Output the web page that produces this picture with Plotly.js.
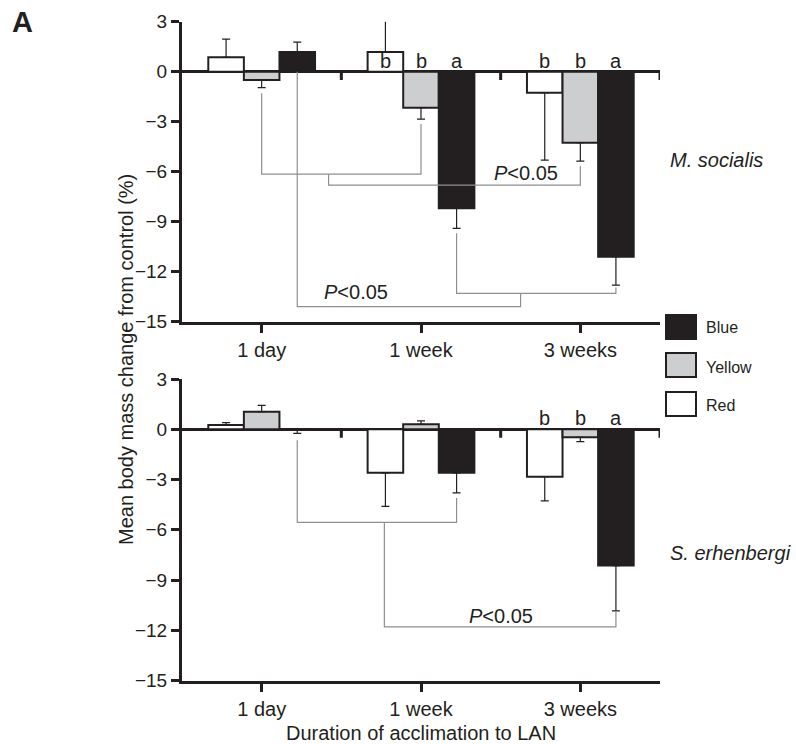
<!DOCTYPE html>
<html>
<head>
<meta charset="utf-8">
<script src="https://cdn.plot.ly/plotly-3.0.1.min.js"></script>
<style>html,body{margin:0;padding:0;background:#fff;}</style>
</head>
<body>
<div id="chart" style="width:796px;height:744px;"></div>
<script>
// ---------- DATA ----------
const categories = ['1 day', '1 week', '3 weeks'];
const seriesNames = ['Red', 'Yellow', 'Blue'];

// M. socialis (top panel)
const socRed = [0.86, 1.18, -1.26];
const socRedErr = [1.1, 1.9, 4.04];
const socYellow = [-0.5, -2.16, -4.26];
const socYellowErr = [0.46, 0.68, 1.1];
const socBlue = [1.18, -8.2, -11.1];
const socBlueErr = [0.6, 1.2, 1.7];

// S. erhenbergi (bottom panel)
const ehrRed = [0.26, -2.6, -2.83];
const ehrRedErr = [0.14, 2.0, 1.45];
const ehrYellow = [1.05, 0.3, -0.48];
const ehrYellowErr = [0.38, 0.2, 0.26];
const ehrBlue = [-0.05, -2.6, -8.14];
const ehrBlueErr = [0.2, 1.2, 2.7];

// significance letters (per category, order Red, Yellow, Blue)
const socLetters = [null, ['b', 'b', 'a'], ['b', 'b', 'a']];
const ehrLetters = [null, null, ['b', 'b', 'a']];

const yTicks = [3, 0, -3, -6, -9, -12, -15];
const pText = '<i>P</i>&lt;0.05';

// ---------- STYLE ----------
const INK = '#231f20';
const GREY_FILL = '#cdcecf';
const BRACKET = '#8e8e8e';
const FONT = 'Liberation Sans, Arial, sans-serif';
const BARGAP = 0.33;
const bw = (1 - BARGAP) / 3;
const offsets = {Red: -bw, Yellow: 0, Blue: bw};
const fills = {Red: '#ffffff', Yellow: GREY_FILL, Blue: INK};
const xIdx = categories.map((c, i) => i);
const xpos = (cat, s) => cat + offsets[s];

function barTrace(name, vals, errs, xa, ya) {
  const plus = vals.map((v, i) => v >= 0 ? errs[i] : 0);
  const minus = vals.map((v, i) => v < 0 ? errs[i] : 0);
  return {
    type: 'bar', name: name, x: xIdx, y: vals, xaxis: xa, yaxis: ya,
    marker: {color: fills[name], line: {color: INK, width: 2}},
    error_y: {type: 'data', symmetric: false, array: plus, arrayminus: minus,
              color: INK, thickness: 1.2, width: 4},
    showlegend: false, hoverinfo: 'skip'
  };
}

function bracket(xa, ya, xb, yb, level, xaxis, yaxis) {
  return {
    type: 'scatter', mode: 'lines', xaxis: xaxis, yaxis: yaxis,
    x: [xa, xa, xb, xb], y: [ya, level, level, yb],
    line: {color: BRACKET, width: 1.2}, showlegend: false, hoverinfo: 'skip'
  };
}

const errEnd = (vals, errs, i) => vals[i] < 0 ? vals[i] - errs[i] : vals[i];

const traces = [
  barTrace('Red', socRed, socRedErr, 'x', 'y'),
  barTrace('Yellow', socYellow, socYellowErr, 'x', 'y'),
  barTrace('Blue', socBlue, socBlueErr, 'x', 'y'),
  barTrace('Red', ehrRed, ehrRedErr, 'x2', 'y2'),
  barTrace('Yellow', ehrYellow, ehrYellowErr, 'x2', 'y2'),
  barTrace('Blue', ehrBlue, ehrBlueErr, 'x2', 'y2'),
  // top panel brackets
  bracket(xpos(0, 'Yellow'), errEnd(socYellow, socYellowErr, 0) - 0.33,
          xpos(1, 'Yellow'), errEnd(socYellow, socYellowErr, 1) - 0.3, -6.15, 'x', 'y'),
  bracket(0.42, -6.15, xpos(2, 'Yellow'), errEnd(socYellow, socYellowErr, 2) - 0.3, -6.8, 'x', 'y'),
  bracket(xpos(1, 'Blue'), errEnd(socBlue, socBlueErr, 1) - 0.3,
          xpos(2, 'Blue'), errEnd(socBlue, socBlueErr, 2) - 0.15, -13.3, 'x', 'y'),
  bracket(xpos(0, 'Blue'), 0, 1.625, -13.3, -14.1, 'x', 'y'),
  // bottom panel brackets
  bracket(xpos(0, 'Blue'), errEnd(ehrBlue, ehrBlueErr, 0) - 0.4,
          xpos(1, 'Blue'), errEnd(ehrBlue, ehrBlueErr, 1) - 0.3, -5.56, 'x2', 'y2'),
  bracket(0.77, -5.56, xpos(2, 'Blue'), errEnd(ehrBlue, ehrBlueErr, 2), -11.8, 'x2', 'y2')
];

// ---------- ANNOTATIONS ----------
const annotations = [];
function letters(list, xref, yref) {
  list.forEach((L, ci) => {
    if (!L) return;
    L.forEach((t, si) => {
      annotations.push({xref: xref, yref: yref, x: xpos(ci, seriesNames[si]), y: 0,
        yanchor: 'bottom', yshift: -2, text: t, showarrow: false,
        font: {family: FONT, size: 20, color: INK}});
    });
  });
}
letters(socLetters, 'x', 'y');
letters(ehrLetters, 'x2', 'y2');

const pAnn = (x, y, xr, yr) => ({xref: xr, yref: yr, x: x, y: y, text: pText, showarrow: false,
  yanchor: 'middle', font: {family: FONT, size: 20, color: INK}});
annotations.push(pAnn(1.66, -6.1, 'x', 'y'));
annotations.push(pAnn(0.59, -13.2, 'x', 'y'));
annotations.push(pAnn(1.5, -11.15, 'x2', 'y2'));

// layout pixel helpers (plot area: x 182..660, y 20..684)
const L = 182, R = 660, T = 20, B = 684;
const px = v => (v - L) / (R - L);
const py = v => (B - v) / (B - T);

annotations.push({xref: 'paper', yref: 'paper', x: px(10), y: py(22), xanchor: 'left', yanchor: 'middle',
  text: '<b>A</b>', showarrow: false, font: {family: FONT, size: 29, color: INK}});
annotations.push({xref: 'paper', yref: 'paper', x: px(668), y: py(160), xanchor: 'left', yanchor: 'middle',
  text: '<i>M. socialis</i>', showarrow: false, font: {family: FONT, size: 20, color: INK}});
annotations.push({xref: 'paper', yref: 'paper', x: px(668), y: py(553), xanchor: 'left', yanchor: 'middle',
  text: '<i>S. erhenbergi</i>', showarrow: false, font: {family: FONT, size: 20, color: INK}});
annotations.push({xref: 'paper', yref: 'paper', x: px(126), y: py(360), xanchor: 'center', yanchor: 'middle',
  textangle: -90, text: 'Mean body mass change from control (%)', showarrow: false,
  font: {family: FONT, size: 20, color: INK}});
annotations.push({xref: 'paper', yref: 'paper', x: px(421), y: py(733), xanchor: 'center', yanchor: 'middle',
  text: 'Duration of acclimation to LAN', showarrow: false,
  font: {family: FONT, size: 20, color: INK}});

// legend (custom)
const legendRows = [{name: 'Blue', top: 315, text: 327}, {name: 'Yellow', top: 353, text: 367}, {name: 'Red', top: 392, text: 405}];
const shapes = [];
legendRows.forEach(r => {
  shapes.push({type: 'rect', xref: 'paper', yref: 'paper', x0: px(666), x1: px(696),
    y0: py(r.top), y1: py(r.top + 24), fillcolor: fills[r.name], line: {color: INK, width: 2}});
  annotations.push({xref: 'paper', yref: 'paper', x: px(704), y: py(r.text), xanchor: 'left', yanchor: 'middle',
    text: r.name, showarrow: false, font: {family: FONT, size: 16, color: INK}});
});

// separator ticks on the zero line
[0.5, 1.5, 2.5].forEach(s => {
  ['', '2'].forEach(k => {
    shapes.push({type: 'line', xref: 'x' + k, yref: 'y' + k, x0: s, x1: s, y0: 0, y1: -0.5,
      line: {color: INK, width: 3}});
  });
});

const xAxisBase = {
  range: [-0.5, 2.5], tickvals: xIdx, ticktext: categories,
  showline: true, linewidth: 3, linecolor: INK, ticks: 'outside', ticklen: 8, tickwidth: 3,
  tickcolor: INK, showgrid: false, zeroline: false, fixedrange: true,
  tickfont: {family: FONT, size: 20, color: INK}
};
const yAxisBase = {
  range: [-15, 3], tickvals: yTicks, showline: true, linewidth: 3, linecolor: INK,
  ticks: 'outside', ticklen: 8, tickwidth: 3, tickcolor: INK, showgrid: false,
  zeroline: true, zerolinecolor: INK, zerolinewidth: 3, fixedrange: true,
  tickfont: {family: FONT, size: 19, color: INK}
};

const layout = {
  width: 796, height: 744,
  margin: {l: L, r: 796 - R, t: T, b: 744 - B},
  paper_bgcolor: '#ffffff', plot_bgcolor: 'rgba(0,0,0,0)',
  barmode: 'group', bargap: BARGAP, bargroupgap: 0,
  showlegend: false,
  xaxis: Object.assign({}, xAxisBase, {anchor: 'y', domain: [0, 1]}),
  yaxis: Object.assign({}, yAxisBase, {anchor: 'x', domain: [py(321.7), py(21.7)]}),
  xaxis2: Object.assign({}, xAxisBase, {anchor: 'y2', domain: [0, 1]}),
  yaxis2: Object.assign({}, yAxisBase, {anchor: 'x2', domain: [py(680.5), py(379)]}),
  annotations: annotations,
  shapes: shapes,
  font: {family: FONT, color: INK}
};

Plotly.newPlot('chart', traces, layout, {displayModeBar: false, staticPlot: true});
</script>
</body>
</html>
